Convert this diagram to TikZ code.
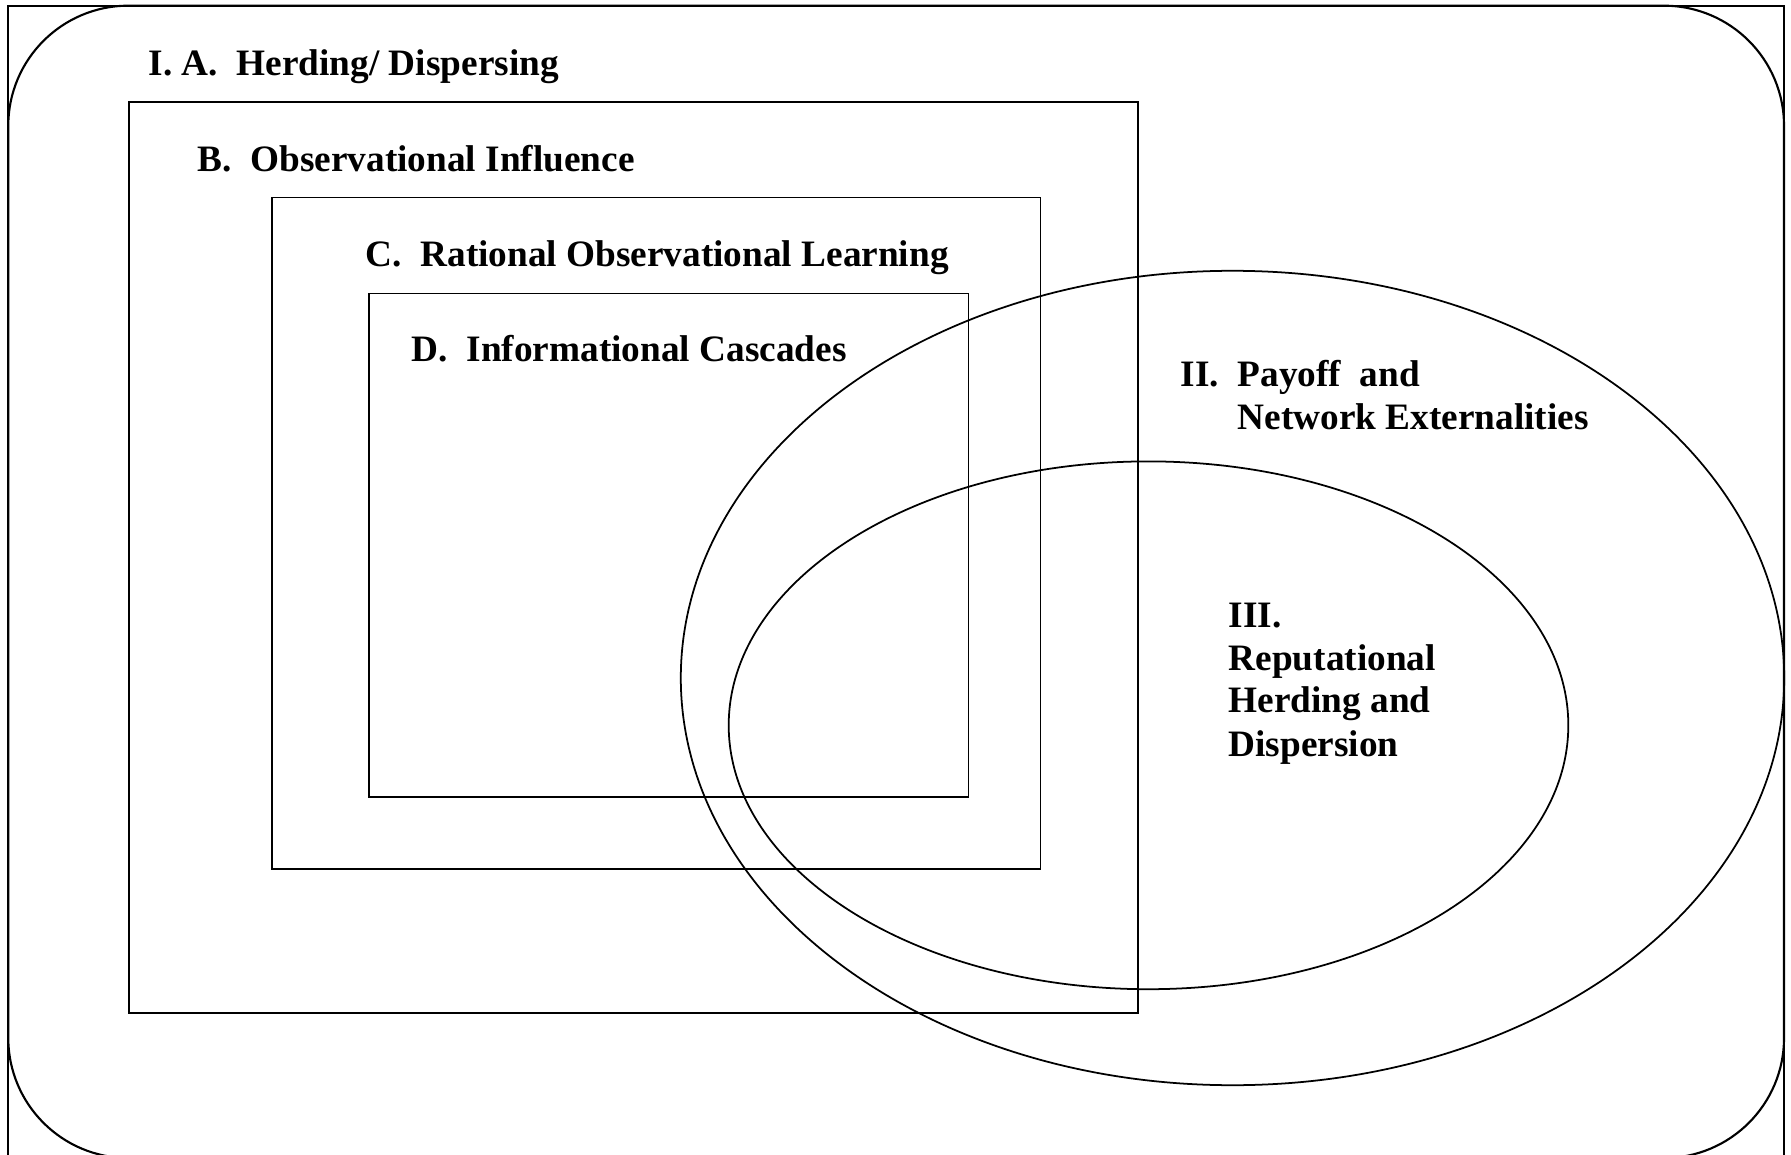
\documentclass[tikz,border=0pt]{standalone}
\usepackage{fontspec}
\setmainfont{Liberation Serif}
\begin{document}
\begin{tikzpicture}[x=0.01cm,y=-0.01cm,
  lbl/.style={anchor=base west, inner sep=0pt, font=\fontsize{10.6}{12.2}\selectfont\bfseries},
  boxline/.style={draw, line width=0.5pt},
  frameline/.style={draw, line width=0.6pt}]
\useasboundingbox (0,0) rectangle (1791,1155);
\clip (0,0) rectangle (1791,1155);
% outer frame and rounded frame
\draw[frameline] (8.3,1165) -- (8.3,5.7) -- (1784,5.7) -- (1784,1165);
\draw[frameline, rounded corners=1.2cm] (8.3,5.7) rectangle (1784,1158);
% nested boxes
\draw[boxline] (129,101.7) rectangle (1138,1013);
\draw[boxline] (272,197.6) rectangle (1040.6,869);
\draw[boxline] (369,293.5) rectangle (968.6,797);
% ellipses
\draw[boxline] (1232.5,678) ellipse [x radius=551.7, y radius=407.2];
\draw[boxline] (1148.5,725.3) ellipse [x radius=419.8, y radius=263.9];
% labels
\node[lbl] (tA) at (148,75.3) {I. A.\ \ Herding/ Dispersing};
\node[lbl] (tB) at (197,171.3) {B.\ \ Observational Influence};
\node[lbl] (tC) at (365,267) {C.\ \ Rational Observational Learning};
\node[lbl] (tD) at (411,362) {D.\ \ Informational Cascades};
\node[lbl] (tII) at (1180,387) {II.\ \ Payoff\ \ and};
\node[lbl] (tIIb) at (1237,429.4) {Network Externalities};
\node[lbl] (tIII) at (1228,627) {III.};
\node[lbl] (tIIIa) at (1228,670) {Reputational};
\node[lbl] (tIIIb) at (1228,712.7) {Herding and};
\node[lbl] (tIIIc) at (1228,756) {Dispersion};
\end{tikzpicture}
\end{document}
